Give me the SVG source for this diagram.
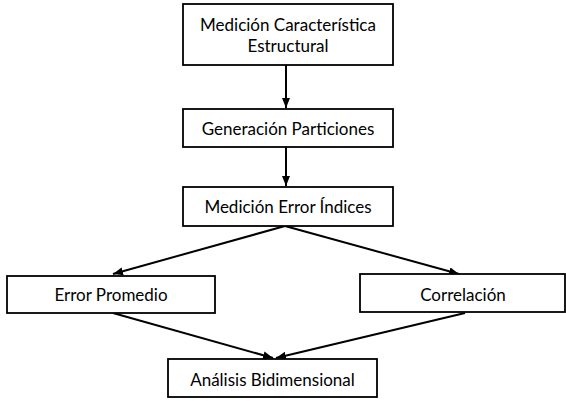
<svg xmlns="http://www.w3.org/2000/svg" width="566" height="401" viewBox="0 0 566 401">
<style>
.box{fill:#fff;stroke:#000;stroke-width:1.8}
.lbl{font-family:Lato,"Open Sans",sans-serif;font-size:17px;fill:#000;text-anchor:middle}
.con{stroke:#000;stroke-width:2;fill:none;marker-end:url(#ah)}
</style>
<defs>
<marker id="ah" markerWidth="10" markerHeight="8" refX="10" refY="4" orient="auto" markerUnits="userSpaceOnUse">
<path d="M0,0 L10,4 L0,8 Z" fill="#000"/>
</marker>
</defs>
<rect width="566" height="401" fill="#fff"/>
<g id="connectors">
<line class="con" x1="286" y1="65" x2="286" y2="108"/>
<line class="con" x1="286" y1="147" x2="286" y2="186"/>
<line class="con" x1="285" y1="226" x2="113" y2="274"/>
<line class="con" x1="285" y1="226" x2="459" y2="274"/>
<line class="con" x1="113" y1="313" x2="273" y2="358"/>
<line class="con" x1="465" y1="313" x2="276" y2="358"/>
</g>
<g id="n1">
<rect class="box" x="183" y="4" width="210" height="61"/>
<text class="lbl" x="288" y="30.5">Medición Característica</text>
<text class="lbl" x="288" y="51.5">Estructural</text>
</g>
<g id="n2">
<rect class="box" x="183" y="109" width="210" height="38"/>
<text class="lbl" x="288" y="135">Generación Particiones</text>
</g>
<g id="n3">
<rect class="box" x="183" y="187" width="210" height="39"/>
<text class="lbl" x="288" y="213">Medición Error Índices</text>
</g>
<g id="n4">
<rect class="box" x="7" y="276" width="208" height="37"/>
<text class="lbl" x="111" y="301">Error Promedio</text>
</g>
<g id="n5">
<rect class="box" x="360" y="274" width="205" height="38"/>
<text class="lbl" x="463" y="301">Correlación</text>
</g>
<g id="n6">
<rect class="box" x="168" y="359" width="209" height="38"/>
<text class="lbl" x="272.5" y="386">Análisis Bidimensional</text>
</g>
</svg>
